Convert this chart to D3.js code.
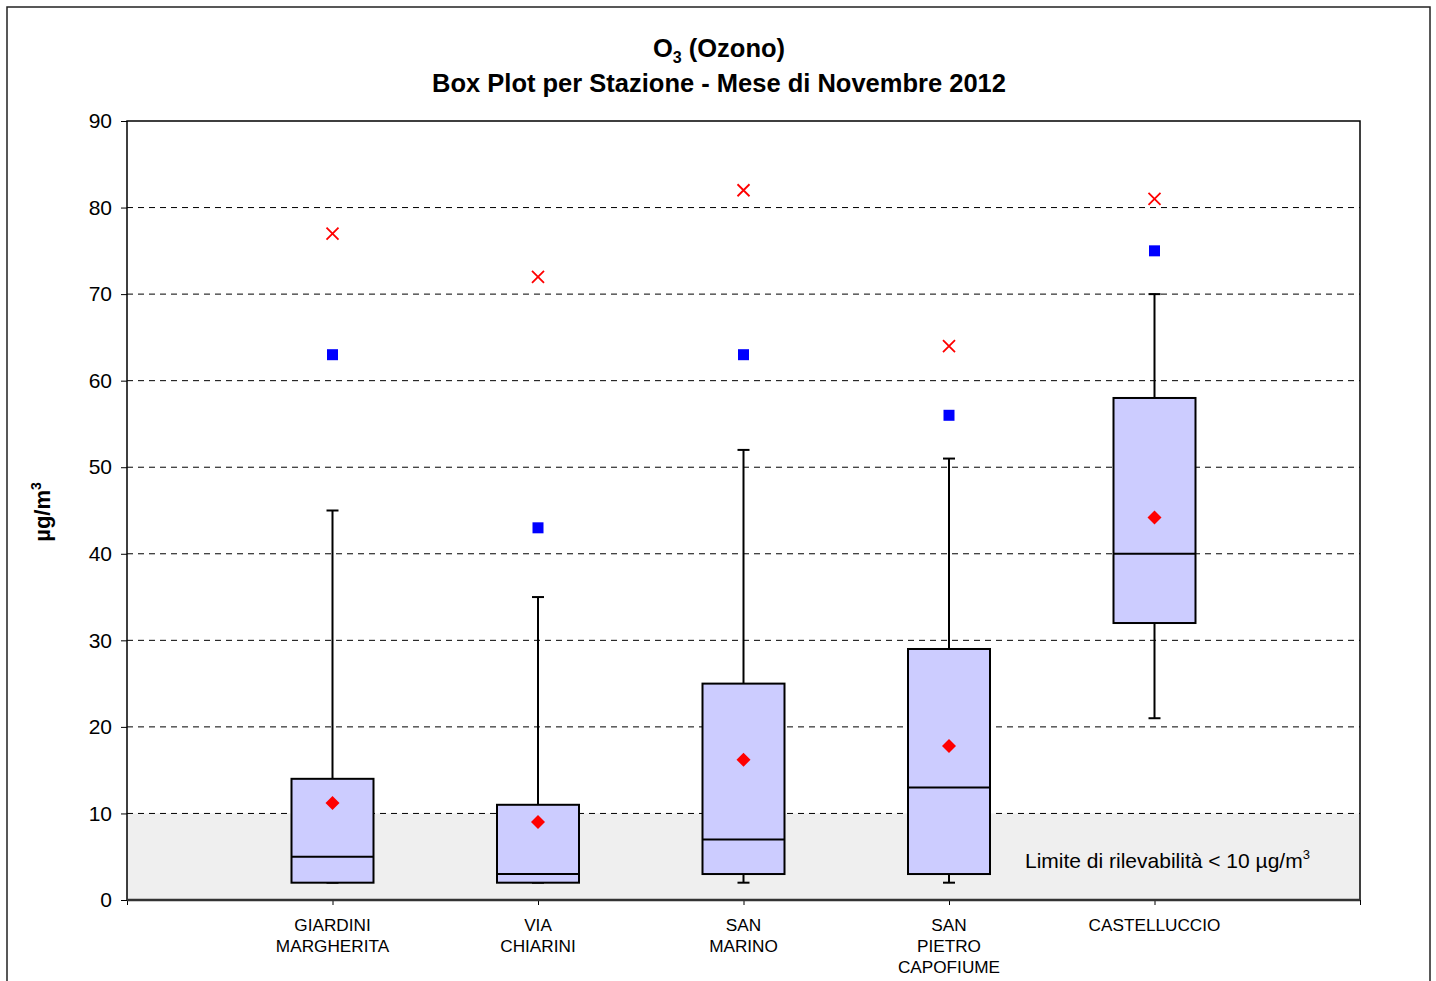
<!DOCTYPE html>
<html><head><meta charset="utf-8">
<script src="https://cdn.jsdelivr.net/npm/d3@7"></script>
<style>body{margin:0;background:#fff;}svg{display:block;font-family:"Liberation Sans",Arial,sans-serif;}</style>
</head><body>
<svg id="c" width="1436" height="981"></svg>
<script>
const stations = [["GIARDINI","MARGHERITA"],["VIA","CHIARINI"],["SAN","MARINO"],["SAN","PIETRO","CAPOFIUME"],["CASTELLUCCIO"]];
const whiskerLow = [2, 2, 2, 2, 21];
const q1 = [2, 2, 3, 3, 32];
const median = [5, 3, 7, 13, 40];
const q3 = [14, 11, 25, 29, 58];
const whiskerHigh = [45, 35, 52, 51, 70];
const mean = [11.2, 9.0, 16.2, 17.8, 44.2];
const p98 = [63, 43, 63, 56, 75];
const maxVal = [77, 72, 82, 64, 81];
const yTicks = [0,10,20,30,40,50,60,70,80,90];
const detectionLimit = 10;

const svg = d3.select("#c");
const L=127, R=1360, T=121, B=900;
const y = d3.scaleLinear().domain([0,90]).range([B,T]);
const x = d3.scaleLinear().domain([0,6]).range([L,R]);

// outer frame
svg.append("rect").attr("x",7).attr("y",7).attr("width",1423).attr("height",990)
  .attr("fill","none").attr("stroke","#222").attr("stroke-width",1.5);

// detection band
svg.append("rect").attr("x",L).attr("y",y(detectionLimit)).attr("width",R-L).attr("height",B-y(detectionLimit)).attr("fill","#efefef");

// gridlines
svg.append("g").selectAll("line").data(yTicks.filter(d=>d>0&&d<90)).join("line")
  .attr("x1",L).attr("x2",R).attr("y1",d=>y(d)).attr("y2",d=>y(d))
  .attr("stroke","#000").attr("stroke-width",1).attr("stroke-dasharray","6,5");

// y axis
const ya = svg.append("g").attr("transform",`translate(${L},0)`).call(d3.axisLeft(y).tickValues(yTicks).tickSize(6).tickPadding(9));
ya.select(".domain").remove();
ya.selectAll("text").attr("font-size",21).attr("fill","#000").attr("font-family","Liberation Sans, Arial, sans-serif");
ya.selectAll("line").attr("stroke","#000");

// x axis ticks
const xa = svg.append("g").attr("transform",`translate(0,${B})`).call(d3.axisBottom(x).tickValues([0,1,2,3,4,5,6]).tickSize(5).tickFormat(""));
xa.select(".domain").remove();
xa.selectAll("line").attr("stroke","#000");

// plot frame
svg.append("rect").attr("x",L).attr("y",T).attr("width",R-L).attr("height",B-T)
  .attr("fill","none").attr("stroke","#000").attr("stroke-width",1.5);
svg.append("line").attr("x1",L).attr("x2",R).attr("y1",B).attr("y2",B).attr("stroke","#333").attr("stroke-width",2.5);

// x labels
stations.forEach((lines,i)=>{
  const t = svg.append("text").attr("text-anchor","middle").attr("font-size",17.2).attr("fill","#000");
  lines.forEach((s,j)=>t.append("tspan").attr("x",x(i+1)).attr("y",931+j*21).text(s));
});

// boxes
const bw = 82, cap = 12;
const g = svg.append("g");
stations.forEach((s,i)=>{
  const cx = x(i+1);
  g.append("line").attr("x1",cx).attr("x2",cx).attr("y1",y(whiskerHigh[i])).attr("y2",y(q3[i])).attr("stroke","#000").attr("stroke-width",2);
  g.append("line").attr("x1",cx).attr("x2",cx).attr("y1",y(whiskerLow[i])).attr("y2",y(q1[i])).attr("stroke","#000").attr("stroke-width",2);
  g.append("line").attr("x1",cx-cap/2).attr("x2",cx+cap/2).attr("y1",y(whiskerHigh[i])).attr("y2",y(whiskerHigh[i])).attr("stroke","#000").attr("stroke-width",2);
  g.append("line").attr("x1",cx-cap/2).attr("x2",cx+cap/2).attr("y1",y(whiskerLow[i])).attr("y2",y(whiskerLow[i])).attr("stroke","#000").attr("stroke-width",2);
  g.append("rect").attr("x",cx-bw/2).attr("y",y(q3[i])).attr("width",bw).attr("height",y(q1[i])-y(q3[i]))
    .attr("fill","#ccccff").attr("stroke","#000").attr("stroke-width",2);
  g.append("line").attr("x1",cx-bw/2).attr("x2",cx+bw/2).attr("y1",y(median[i])).attr("y2",y(median[i])).attr("stroke","#000").attr("stroke-width",2);
  // mean diamond
  g.append("path").attr("transform",`translate(${cx},${y(mean[i])})`).attr("d","M0,-7L7,0L0,7L-7,0Z").attr("fill","#ff0000");
  // 98th percentile square
  g.append("rect").attr("x",cx-5.5).attr("y",y(p98[i])-5.5).attr("width",11).attr("height",11).attr("fill","#0000ff");
  // max cross
  g.append("path").attr("transform",`translate(${cx},${y(maxVal[i])})`).attr("d","M-6,-6L6,6M-6,6L6,-6").attr("stroke","#ff0000").attr("stroke-width",1.8).attr("fill","none");
});

// detection text
const lt = svg.append("text").attr("x",1025).attr("y",868).attr("font-size",21).attr("fill","#000");
lt.append("tspan").text("Limite di rilevabilità < 10 µg/m");
lt.append("tspan").attr("font-size",13).attr("dy",-9).text("3");

// title
const t1 = svg.append("text").attr("x",719).attr("y",57).attr("text-anchor","middle").attr("font-size",25.5).attr("font-weight","bold");
t1.append("tspan").text("O");
t1.append("tspan").attr("font-size",16).attr("dy",6).text("3");
t1.append("tspan").attr("dy",-6).text(" (Ozono)");
svg.append("text").attr("x",719).attr("y",92).attr("text-anchor","middle").attr("font-size",25.5).attr("font-weight","bold").text("Box Plot per Stazione - Mese di Novembre 2012");

// y label
const yl = svg.append("text").attr("transform","translate(50,512) rotate(-90)").attr("text-anchor","middle").attr("font-size",22).attr("font-weight","bold");
yl.append("tspan").text("µg/m");
yl.append("tspan").attr("font-size",14).attr("dy",-9).text("3");
</script>
</body></html>
